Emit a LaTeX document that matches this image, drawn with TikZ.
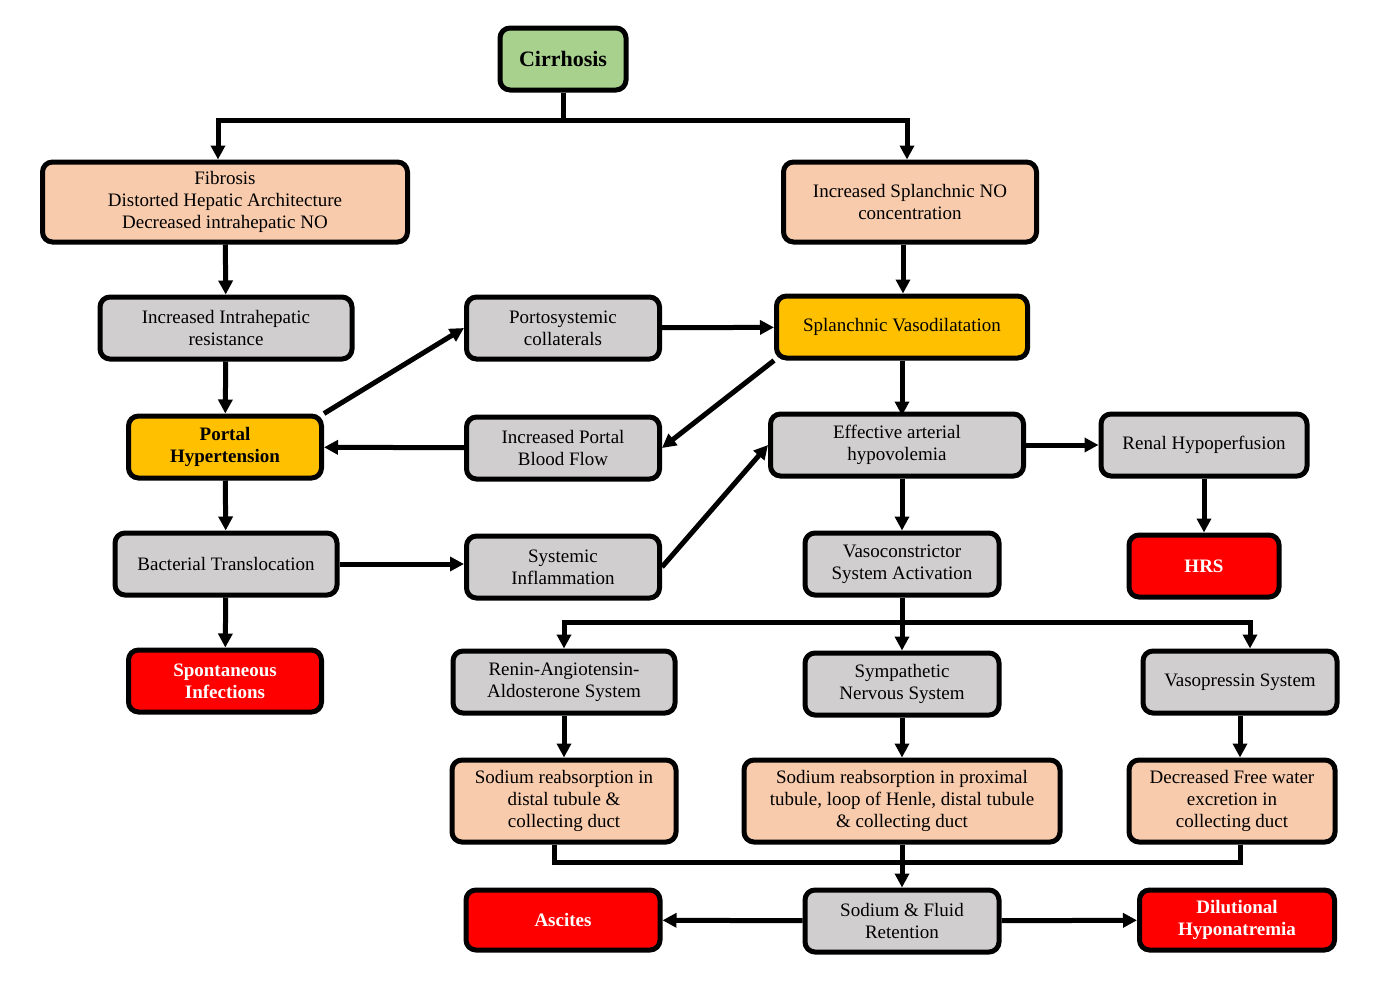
\documentclass[tikz,border=0pt]{standalone}
\usepackage{fontspec}
\setmainfont{Liberation Serif}
\usetikzlibrary{arrows.meta}
\definecolor{peach}{HTML}{F8CBAD}
\definecolor{grayb}{HTML}{D0CECE}
\definecolor{gold}{HTML}{FFC000}
\definecolor{greenb}{HTML}{A9D18E}
\definecolor{redb}{HTML}{FF0000}
\begin{document}
\begin{tikzpicture}[x=0.5pt,y=-0.5pt,
 box/.style={draw=black,line width=2.5pt,rounded corners=5pt,align=center,inner sep=0pt,font=\fontsize{9.5}{11}\selectfont},
 pb/.style={box,fill=peach},gb/.style={box,fill=grayb},yb/.style={box,fill=gold,font=\fontsize{9.5}{11}\selectfont\bfseries},
 rb/.style={box,fill=redb,text=white,font=\fontsize{9.5}{11}\selectfont\bfseries},
 ln/.style={line width=2.5pt},
 ar/.style={ln,-{Triangle[length=7pt,width=7pt]}}]
\useasboundingbox (0,0) rectangle (1383,1001);
\def\bx#1#2#3#4#5#6#7{\node[#1,minimum width=#5*0.5pt,minimum height=#6*0.5pt] (#2) at (#3,#4) {#7};}
\bx{box,fill=greenb,font=\fontsize{11}{13}\selectfont\bfseries}{cir}{563}{59}{126}{62}{Cirrhosis}
\bx{pb}{fib}{225}{202}{365}{80}{Fibrosis\\Distorted Hepatic Architecture\\Decreased intrahepatic NO}
\bx{pb}{no}{910}{202}{253}{80}{Increased Splanchnic NO\\concentration}
\bx{gb}{iir}{226}{328}{252}{62}{Increased Intrahepatic\\resistance}
\bx{gb}{psc}{563}{328}{193}{62}{Portosystemic\\collaterals}
\bx{yb}{sv}{902}{327}{251}{62}{\mdseries Splanchnic Vasodilatation}
\bx{yb}{ph}{225}{447}{193}{62}{Portal\\Hypertension}
\bx{gb}{ipbf}{563}{448}{193}{62}{Increased Portal\\Blood Flow}
\bx{gb}{eah}{897}{445}{253}{62}{Effective arterial\\hypovolemia}
\bx{gb}{rh}{1204}{445}{206}{62}{Renal Hypoperfusion}
\bx{gb}{bt}{226}{564}{222}{62}{Bacterial Translocation}
\bx{gb}{si}{563}{567}{193}{62}{Systemic\\Inflammation}
\bx{gb}{vsa}{902}{564}{194}{62}{Vasoconstrictor\\System Activation}
\bx{rb}{hrs}{1204}{566}{150}{62}{HRS}
\bx{rb}{spi}{225}{681}{193}{62}{Spontaneous\\Infections}
\bx{gb}{raas}{564}{682}{222}{62}{Renin-Angiotensin-\\Aldosterone System}
\bx{gb}{sns}{902}{684}{194}{62}{Sympathetic\\Nervous System}
\bx{gb}{vps}{1240}{682}{194}{62}{Vasopressin System}
\bx{pb}{sd}{564}{801}{224}{82}{Sodium reabsorption in\\distal tubule \&\\collecting duct}
\bx{pb}{sp}{902}{801}{316}{82}{Sodium reabsorption in proximal\\tubule, loop of Henle, distal tubule\\\& collecting duct}
\bx{pb}{dfw}{1232}{801}{206}{82}{Decreased Free water\\excretion in\\collecting duct}
\bx{rb}{asc}{563}{920}{194}{60}{Ascites}
\bx{gb}{sf}{902}{921}{194}{62}{Sodium \& Fluid\\Retention}
\bx{rb}{dh}{1237}{920}{195}{60}{Dilutional\\Hyponatremia}
\coordinate (t1) at (563,120);
\draw[ln] (cir.south) -- (t1);
\draw[ar] (t1) -| (fib.north -| 218,0);
\draw[ar] (t1) -| (no.north -| 907,0);
\draw[ar] (fib) -- (iir);
\draw[ar] (iir) -- (ph);
\draw[ar] (ph.north east) -- (psc.west);
\draw[ar] (psc) -- (sv);
\draw[ar] (sv.south west) -- (ipbf.east);
\draw[ar] (ipbf) -- (ph);
\draw[ar] (no.south -| 903,0) -- (sv.north -| 903,0);
\draw[ar] (sv.south -| eah.north) ++(5,0) -- ++(0,55);
\draw[ar] (eah) -- (rh);
\draw[ar] (rh) -- (hrs);
\draw[ar] (ph) -- (bt);
\draw[ar] (bt) -- (si.west |- bt.east);
\draw[ar] (si.east) -- (eah.west);
\draw[ar] (bt) -- (spi);
\draw[ar] (eah.south -| vsa.north) -- (vsa.north);
\coordinate (t2) at (902,622);
\draw[ln] (vsa.south) -- (t2);
\draw[ar] (t2) -| (raas.north);
\draw[ar] (t2) -- (sns.north);
\draw[ar] (t2) -| (vps.north -| 1250,0);
\draw[ar] (raas) -- (sd);
\draw[ar] (sns) -- (sp);
\draw[ar] (vps.south -| 1240,0) -- (dfw.north -| 1240,0);
\draw[ln] (sd.south -| 554,0) |- (1240,862) -- (dfw.south -| 1240,0);
\draw[ar] (sp) -- (sf);
\draw[ar] (sf) -- (asc);
\draw[ar] (sf) -- (dh);
\end{tikzpicture}
\end{document}
